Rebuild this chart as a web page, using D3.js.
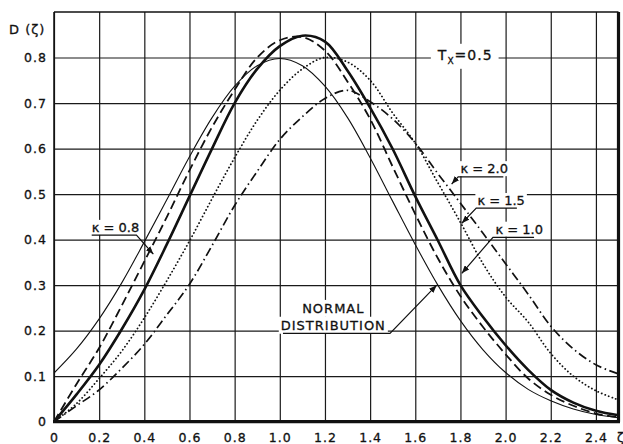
<!DOCTYPE html>
<html>
<head>
<meta charset="utf-8">
<script src="https://cdnjs.cloudflare.com/ajax/libs/d3/7.8.5/d3.min.js"></script>
<style>
    html, body { margin: 0; padding: 0; background: #fff; }
    svg text { font-family: "DejaVu Sans", sans-serif; fill: #111; stroke: #111; stroke-width: 0.3px; }
</style>
</head>
<body>
<div id="chart"></div>
<script>
(function() {
    'use strict';

    // abscissa zeta, step 0.1
    var zeta = [0, 0.1, 0.2, 0.3, 0.4, 0.5, 0.6, 0.7, 0.8, 0.9, 1.0, 1.1, 1.2,
        1.3, 1.4, 1.5, 1.6, 1.7, 1.8, 1.9, 2.0, 2.1, 2.2, 2.3, 2.4, 2.5];

    // D(zeta)
    var normal = [0.107, 0.160, 0.226, 0.305, 0.395, 0.488, 0.582, 0.668, 0.737, 0.782, 0.798,
        0.782, 0.737, 0.668, 0.580, 0.484, 0.389, 0.300, 0.222, 0.158, 0.108, 0.071, 0.046,
        0.028, 0.016, 0.009];
    var kappa08 = [0, 0.083, 0.162, 0.255, 0.352, 0.450, 0.552, 0.647, 0.729, 0.800, 0.838,
        0.845, 0.815, 0.747, 0.665, 0.560, 0.456, 0.359, 0.276, 0.208, 0.148, 0.095, 0.059,
        0.035, 0.018, 0.010];
    var kappa10 = [0, 0.060, 0.125, 0.203, 0.290, 0.390, 0.495, 0.600, 0.700, 0.775, 0.825,
        0.848, 0.835, 0.771, 0.690, 0.599, 0.495, 0.398, 0.300, 0.230, 0.168, 0.114, 0.070,
        0.042, 0.024, 0.014];
    var kappa15 = [0, 0.040, 0.095, 0.155, 0.228, 0.310, 0.397, 0.490, 0.580, 0.662, 0.728,
        0.775, 0.800, 0.790, 0.750, 0.678, 0.612, 0.525, 0.438, 0.347, 0.274, 0.219, 0.150,
        0.100, 0.068, 0.048];
    var kappa20 = [0, 0.035, 0.070, 0.117, 0.170, 0.235, 0.302, 0.387, 0.475, 0.550, 0.620,
        0.670, 0.710, 0.728, 0.703, 0.665, 0.612, 0.545, 0.480, 0.414, 0.347, 0.280, 0.210,
        0.160, 0.125, 0.105];

    var xTicks = [0, 0.2, 0.4, 0.6, 0.8, 1.0, 1.2, 1.4, 1.6, 1.8, 2.0, 2.2, 2.4];
    var xTickLabels = ["0", "0.2", "0.4", "0.6", "0.8", "1.0", "1.2", "1.4", "1.6", "1.8", "2.0", "2.2", "2.4"];
    var yTicks = [0, 0.1, 0.2, 0.3, 0.4, 0.5, 0.6, 0.7, 0.8];
    var yTickLabels = ["0", "0.1", "0.2", "0.3", "0.4", "0.5", "0.6", "0.7", "0.8"];

    var series = [
        { name: "normal", values: normal, width: 1.1, dash: null },
        { name: "k08", values: kappa08, width: 1.8, dash: "9,4.5" },
        { name: "k15", values: kappa15, width: 1.8, dash: "0.1,3.6" },
        { name: "k20", values: kappa20, width: 1.7, dash: "9,3.5,1.5,3.5" },
        { name: "k10", values: kappa10, width: 2.6, dash: null }
    ];

    // annotation labels (data units), leader = underline then arrow to the curve
    var labels = [
        { text: "κ = 0.8", at: [0.167, 0.417], leader: [[0.167, 0.410], [0.365, 0.410], [0.440, 0.368]] },
        { text: "κ = 2.0", at: [1.800, 0.546], leader: [[1.990, 0.538], [1.790, 0.538], [1.761, 0.522]] },
        { text: "κ = 1.5", at: [1.875, 0.476], leader: [[2.050, 0.469], [1.870, 0.469], [1.806, 0.436]] },
        { text: "κ = 1.0", at: [1.955, 0.413], leader: [[2.126, 0.405], [1.944, 0.405], [1.806, 0.326]] }
    ];

    var width = 623, height = 444;

    var x = d3.scaleLinear().domain([0, 2.5]).range([54, 618.5]);
    var y = d3.scaleLinear().domain([0, 0.9]).range([421.7, 12]);

    var svg = d3.select("#chart")
        .append("svg")
        .attr("width", width)
        .attr("height", height);

    var defs = svg.append("defs");
    defs.append("marker")
        .attr("id", "arrow")
        .attr("viewBox", "0 0 8 6")
        .attr("refX", 8)
        .attr("refY", 3)
        .attr("markerWidth", 8)
        .attr("markerHeight", 6)
        .attr("markerUnits", "userSpaceOnUse")
        .attr("orient", "auto")
        .append("path")
        .attr("d", "M0,0 L8,3 L0,6 z")
        .attr("fill", "#111");

    defs.append("clipPath")
        .attr("id", "plotClip")
        .append("rect")
        .attr("x", x(0))
        .attr("y", y(0.9))
        .attr("width", x(2.5) - x(0))
        .attr("height", y(0) - y(0.9));

    // grid + tick labels
    var gx = svg.append("g")
        .attr("transform", "translate(0," + y(0) + ")")
        .call(d3.axisBottom(x)
            .tickValues(xTicks)
            .tickSize(-(y(0) - y(0.9)))
            .tickPadding(11)
            .tickFormat(function(d, i) { return xTickLabels[i]; }));

    var gy = svg.append("g")
        .attr("transform", "translate(" + x(0) + ",0)")
        .call(d3.axisLeft(y)
            .tickValues(yTicks)
            .tickSize(-(x(2.5) - x(0)))
            .tickPadding(7)
            .tickFormat(function(d, i) { return yTickLabels[i]; }));

    [gx, gy].forEach(function(g) {
        g.select(".domain").remove();
        g.selectAll(".tick line")
            .attr("stroke", "#1a1a1a")
            .attr("stroke-width", 1.2);
        g.selectAll(".tick text")
            .attr("fill", "#111")
            .style("font-size", "12.5px")
            .style("letter-spacing", "1px")
            .style("font-family", '"DejaVu Sans", sans-serif');
    });

    // frame: thin top/left, heavy bottom/right
    svg.append("line")
        .attr("x1", x(0)).attr("x2", x(2.5))
        .attr("y1", y(0.9)).attr("y2", y(0.9))
        .attr("stroke", "#111").attr("stroke-width", 1.4);
    svg.append("line")
        .attr("x1", x(0)).attr("x2", x(0))
        .attr("y1", y(0.9)).attr("y2", y(0))
        .attr("stroke", "#111").attr("stroke-width", 1.5);
    svg.append("line")
        .attr("x1", x(0) - 1).attr("x2", x(2.5) + 1.5)
        .attr("y1", y(0)).attr("y2", y(0))
        .attr("stroke", "#111").attr("stroke-width", 3.2);
    svg.append("line")
        .attr("x1", x(2.5)).attr("x2", x(2.5))
        .attr("y1", y(0.9)).attr("y2", y(0))
        .attr("stroke", "#111").attr("stroke-width", 3.2);

    // curves
    var line = d3.line()
        .x(function(d) { return x(d[0]); })
        .y(function(d) { return y(d[1]); })
        .curve(d3.curveCatmullRom.alpha(0.5));

    svg.append("g")
        .attr("clip-path", "url(#plotClip)")
        .selectAll("path")
        .data(series)
        .enter().append("path")
        .attr("class", function(d) { return "curve " + d.name; })
        .attr("fill", "none")
        .attr("stroke", "#111")
        .attr("stroke-width", function(d) { return d.width; })
        .attr("stroke-dasharray", function(d) { return d.dash; })
        .attr("stroke-linecap", function(d) { return d.name === "k15" ? "round" : "butt"; })
        .attr("d", function(d) {
            return line(zeta.map(function(z, i) { return [z, d.values[i]]; }));
        });

    // white patch behind a text element
    function backdrop(textSel, padX, padY) {
        var node = textSel.node();
        var b = node.getBBox();
        d3.select(node.parentNode).insert("rect", function() { return node; })
            .attr("x", b.x - padX)
            .attr("y", b.y - padY)
            .attr("width", b.width + 2 * padX)
            .attr("height", b.height + 2 * padY)
            .attr("fill", "#fff");
    }

    var leader = d3.line()
        .x(function(d) { return x(d[0]); })
        .y(function(d) { return y(d[1]); });

    labels.forEach(function(l) {
        var t = svg.append("text")
            .attr("x", x(l.at[0]))
            .attr("y", y(l.at[1]))
            .style("font-size", "13px")
            .text(l.text);
        backdrop(t, 2, 0);
        svg.append("path")
            .attr("d", leader(l.leader))
            .attr("fill", "none")
            .attr("stroke", "#111")
            .attr("stroke-width", 1.2)
            .attr("marker-end", "url(#arrow)");
    });

    // NORMAL DISTRIBUTION
    var nd1 = svg.append("text")
        .attr("x", x(1.237))
        .attr("y", y(0.239))
        .attr("text-anchor", "middle")
        .style("font-size", "13px")
        .style("letter-spacing", "1px")
        .text("NORMAL");
    var nd2 = svg.append("text")
        .attr("x", x(1.237))
        .attr("y", y(0.202))
        .attr("text-anchor", "middle")
        .style("font-size", "13px")
        .style("letter-spacing", "1px")
        .text("DISTRIBUTION");
    backdrop(nd1, 2, 1);
    backdrop(nd2, 2, 1);
    svg.append("path")
        .attr("d", leader([[1.014, 0.194], [1.488, 0.194], [1.695, 0.300]]))
        .attr("fill", "none")
        .attr("stroke", "#111")
        .attr("stroke-width", 1.2)
        .attr("marker-end", "url(#arrow)");

    // T_x = 0.5
    var tx = svg.append("text")
        .attr("x", x(1.70))
        .attr("y", y(0.795))
        .style("font-size", "14px")
        .style("letter-spacing", "1px");
    tx.append("tspan").text("T");
    tx.append("tspan").attr("dy", 4).style("font-size", "9px").text("X");
    tx.append("tspan").attr("dy", -4).text("=0.5");
    backdrop(tx, 6, 3);

    // axis titles
    svg.append("text")
        .attr("x", 9)
        .attr("y", 34)
        .style("font-size", "13px")
        .style("letter-spacing", "1px")
        .text("D (ζ)");
    svg.append("text")
        .attr("x", 617)
        .attr("y", 442)
        .style("font-size", "12.5px")
        .text("ζ");
}());
</script>
</body>
</html>
